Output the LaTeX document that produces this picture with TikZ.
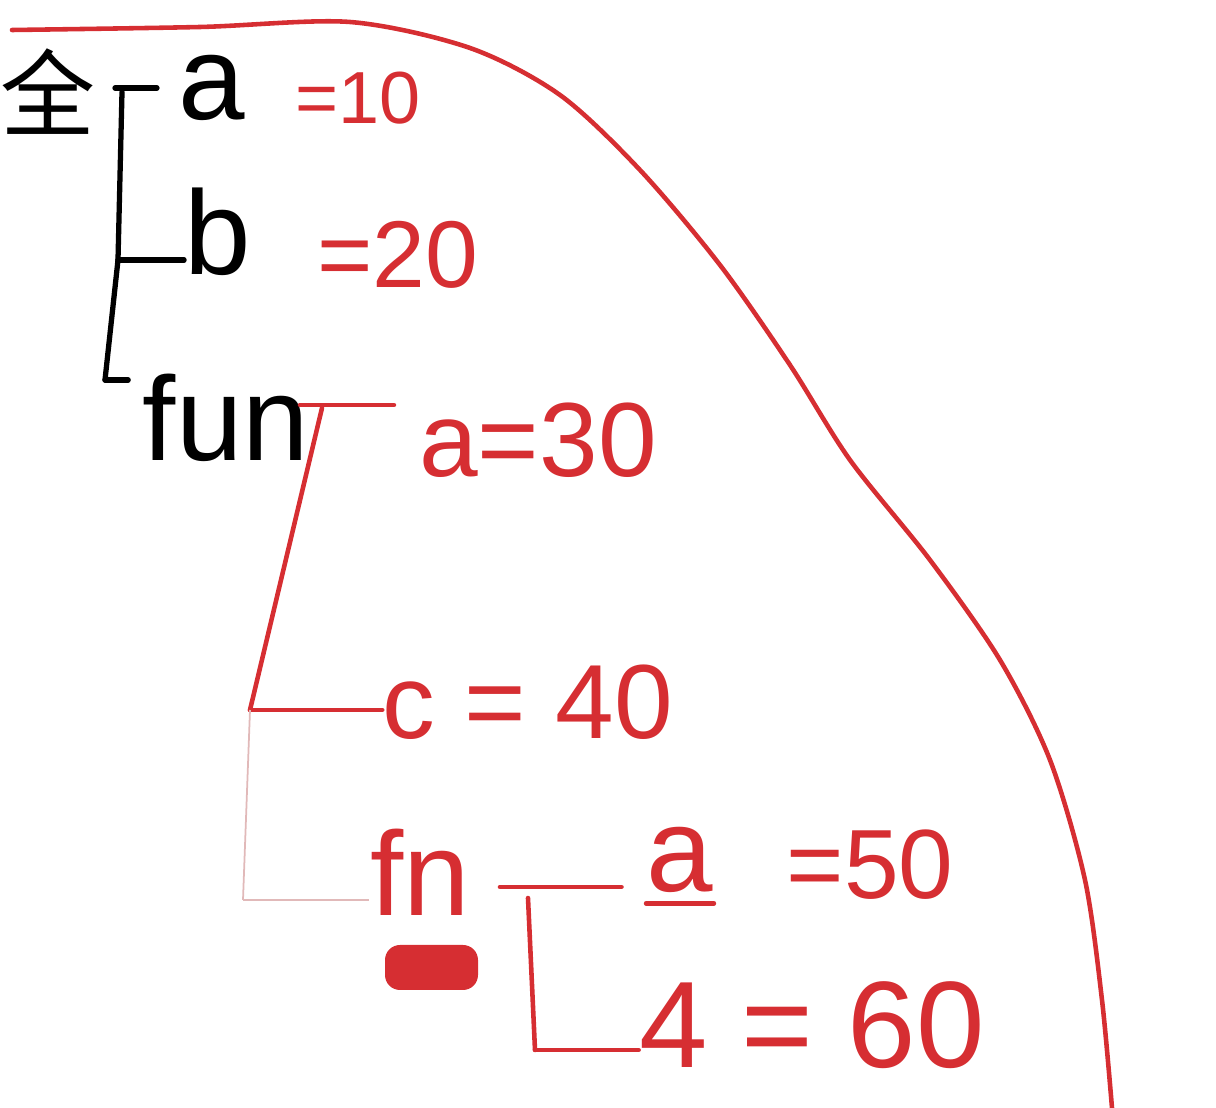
\documentclass[tikz,border=0pt]{standalone}
\usepackage{fontspec}
\setmainfont{Liberation Sans}
\newfontfamily\cjk{Noto Sans CJK SC}
\definecolor{pen}{RGB}{214,46,50}
\definecolor{faint}{RGB}{225,185,185}
\tikzset{
  ink/.style={line width=1.5pt, line cap=round, line join=round},
  redink/.style={ink, draw=pen, line width=1.3pt},
  faintink/.style={draw=faint, line width=0.5pt},
  var/.style={inner sep=0pt, font=\fontsize{34}{34}\selectfont},
  redvar/.style={var, text=pen},
  val/.style={inner sep=0pt, text=pen, font=\fontsize{24}{24}\selectfont},
}
\begin{document}
\begin{tikzpicture}[x=0.1mm, y=-0.1mm]
  \useasboundingbox (0,0) rectangle (1216,1108);

  % global scope
  \node[inner sep=0pt, font=\cjk\fontsize{27}{27}\selectfont] (quan) at (48,92) {全};
  \node[var] (ga) at (212,88) {a};
  \node[val, font=\fontsize{21}{21}\selectfont] (gav) at (358,98) {=10};
  \node[var] (gb) at (218,232) {b};
  \node[val, font=\fontsize{27}{27}\selectfont] (gbv) at (398,255) {=20};
  \node[var] (fun) at (226,418) {fun};

  \coordinate (j0) at (115,88);
  \coordinate (j1) at (118,260);
  \coordinate (j2) at (105,380);
  \draw[ink, shorten >=6pt] (j0) -- (j0 -| ga.west);
  \draw[ink] (122,92) -- (j1);
  \draw[ink] (j1) -- (j1 -| gb.west);
  \draw[ink] (j1) -- (j2);
  \draw[ink, shorten >=4pt] (j2) -- (j2 -| fun.west);

  % fun scope
  \node[val, font=\fontsize{30}{30}\selectfont] (fa) at (538,440) {a=30};
  \node[val, font=\fontsize{30}{30}\selectfont] (fc) at (528,702) {c = 40};
  \node[redvar] (fn) at (420,872) {fn};
  \fill[pen, rounded corners=1.5mm] (385,945) rectangle (478,990);

  \coordinate (k0) at (300,405);
  \coordinate (k1) at (250,710);
  \coordinate (k2) at (243,900);
  \draw[redink, shorten >=7pt] (k0) -- (k0 -| fa.west);
  \draw[redink] (322,408) -- (k1);
  \draw[redink] (k1) -- (k1 -| fc.west);
  \draw[faintink] (k1) -- (k2);
  \draw[faintink] (k2) -- (k2 -| fn.west);

  % fn scope
  \node[redvar] (na) at (680,860) {a};
  \node[val, font=\fontsize{28}{28}\selectfont] (nav) at (870,865) {=50};
  \node[val, font=\fontsize{35}{35}\selectfont] (nd) at (812,1025) {4 = 60};
  \draw[redink] ([yshift=-1mm]na.south west) -- ([yshift=-1mm]na.south east);

  \coordinate (m0) at (500,887);
  \coordinate (m1) at (535,1050);
  \draw[redink, shorten >=7pt] (m0) -- (m0 -| na.west);
  \draw[redink] (528,898) -- (m1);
  \draw[redink] (m1) -- (m1 -| nd.west);

  % scope boundary
  \draw[redink] plot[smooth] coordinates {(12,30) (200,27) (350,22) (470,48)
    (560,95) (640,170) (720,265) (790,365) (850,460) (930,560) (1000,660)
    (1050,760) (1085,880) (1102,1000) (1112,1108)};
\end{tikzpicture}
\end{document}
